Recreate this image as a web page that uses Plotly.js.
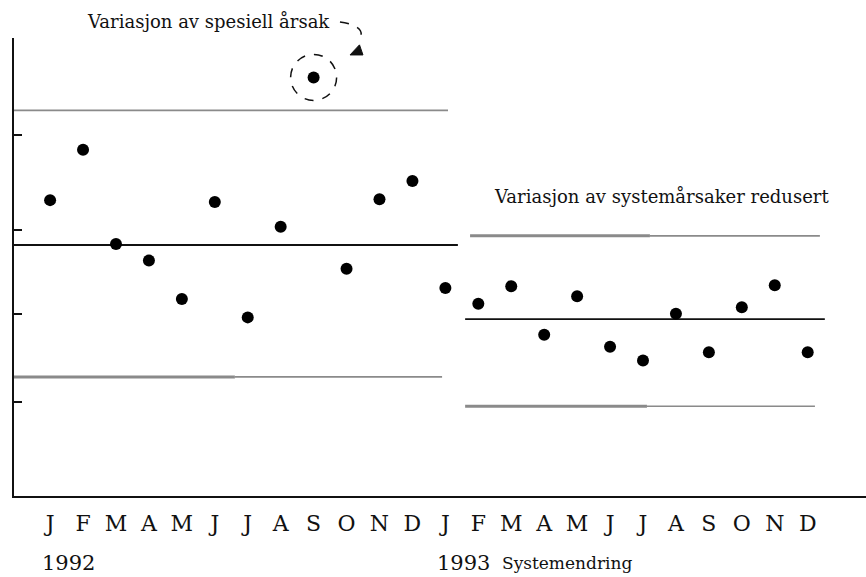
<!DOCTYPE html>
<html><head><meta charset="utf-8">
<script src="https://cdn.plot.ly/plotly-3.0.1.min.js"></script>
<style>body{margin:0;background:#fff}#chart{width:866px;height:577px}</style>
</head><body><div id="chart"></div>
<script>
// Month labels (two years)
const months = ["J","F","M","A","M","J","J","A","S","O","N","D","J","F","M","A","M","J","J","A","S","O","N","D"];
const monthIndex = months.map((m,i)=>i);
const values = [32.3,37.8,27.5,25.7,21.5,32.1,19.5,29.4,45.7,24.8,32.4,34.4,
                22.7,21.0,22.9,17.6,21.8,16.3,14.8,19.9,15.7,20.6,23.0,15.7];
// Control limits per period
const ucl = [42.1, 28.4];
const cl  = [27.4, 19.3];
const lcl = [13.0, 9.8];
const specialIndex = 8; // September 1992
const yTicks = [10.3, 19.9, 29.0, 39.4];

const grey = "#8a8a8a";
const traces = [];
function seg(x0,x1,y,color,w){
  traces.push({x:[x0,x1],y:[y,y],mode:"lines",line:{color:color,width:w},hoverinfo:"skip",showlegend:false});
}
// period 1
seg(-1.1, 12.08, ucl[0], grey, 1.8);
seg(-1.1, 12.38, cl[0], "#111", 1.8);
seg(-1.1, 5.61, lcl[0], grey, 3);
seg(5.61, 11.90, lcl[0], grey, 1.6);
// period 2
seg(12.75, 18.21, ucl[1], grey, 3);
seg(18.21, 23.37, ucl[1], grey, 1.6);
seg(12.60, 23.52, cl[1], "#111", 1.8);
seg(12.60, 18.12, lcl[1], grey, 3);
seg(18.12, 23.22, lcl[1], grey, 1.6);

traces.push({x:monthIndex,y:values,mode:"markers",marker:{color:"#000",size:12},showlegend:false,hoverinfo:"skip"});

const serif = "DejaVu Serif, Liberation Serif, serif";
const layout = {
  width:866,height:577,
  margin:{l:14,r:0,t:38,b:81},
  paper_bgcolor:"#fff",plot_bgcolor:"#fff",
  showlegend:false,
  xaxis:{range:[-1.096,24.77],showgrid:false,zeroline:false,showline:true,linecolor:"#111",linewidth:2,
    tickvals:monthIndex,ticktext:months,ticks:"outside",ticklen:7,tickcolor:"rgba(0,0,0,0)",
    tickfont:{family:serif,size:22,color:"#111"}},
  yaxis:{range:[0,50],showgrid:false,zeroline:false,showline:true,linecolor:"#111",linewidth:2,
    tickvals:yTicks,showticklabels:false,ticks:"inside",ticklen:8,tickwidth:2,tickcolor:"#111"},
  shapes:[
    {type:"circle",xref:"x",yref:"y",xsizemode:"pixel",ysizemode:"pixel",
     xanchor:specialIndex,yanchor:values[specialIndex],x0:-23,x1:23,y0:-23,y1:23,
     line:{color:"#111",width:1.5,dash:"dash"}},
    {type:"path",xref:"paper",yref:"paper",path:"M 0.3826,1.035 Q 0.4185,1.025 0.4026,0.99",
     line:{color:"#111",width:1.5,dash:"dash"}},
    {type:"path",xref:"paper",yref:"paper",path:"M 0.3944,0.963 L 0.4096,0.963 L 0.4055,0.985 Z",
     fillcolor:"#111",line:{color:"#111",width:1}}
  ],
  annotations:[
    {xref:"paper",yref:"paper",x:(85-14)/852,y:(496-22)/458,xanchor:"left",yanchor:"middle",showarrow:false,
     text:"Variasjon av spesiell årsak",font:{family:serif,size:18,color:"#111"}},
    {xref:"paper",yref:"paper",x:(492-14)/852,y:(496-196)/458,xanchor:"left",yanchor:"middle",showarrow:false,
     text:"Variasjon av systemårsaker redusert",font:{family:serif,size:18,color:"#111"}},
    {xref:"paper",yref:"paper",x:(40-14)/852,y:(496-563)/458,xanchor:"left",yanchor:"middle",showarrow:false,
     text:"1992",font:{family:serif,size:21,color:"#111"}},
    {xref:"paper",yref:"paper",x:(435-14)/852,y:(496-563)/458,xanchor:"left",yanchor:"middle",showarrow:false,
     text:"1993",font:{family:serif,size:21,color:"#111"}},
    {xref:"paper",yref:"paper",x:(500-14)/852,y:(496-563)/458,xanchor:"left",yanchor:"middle",showarrow:false,
     text:"Systemendring",font:{family:serif,size:17,color:"#111"}}
  ]
};
Plotly.newPlot("chart",traces,layout,{staticPlot:true,displayModeBar:false});
</script></body></html>
